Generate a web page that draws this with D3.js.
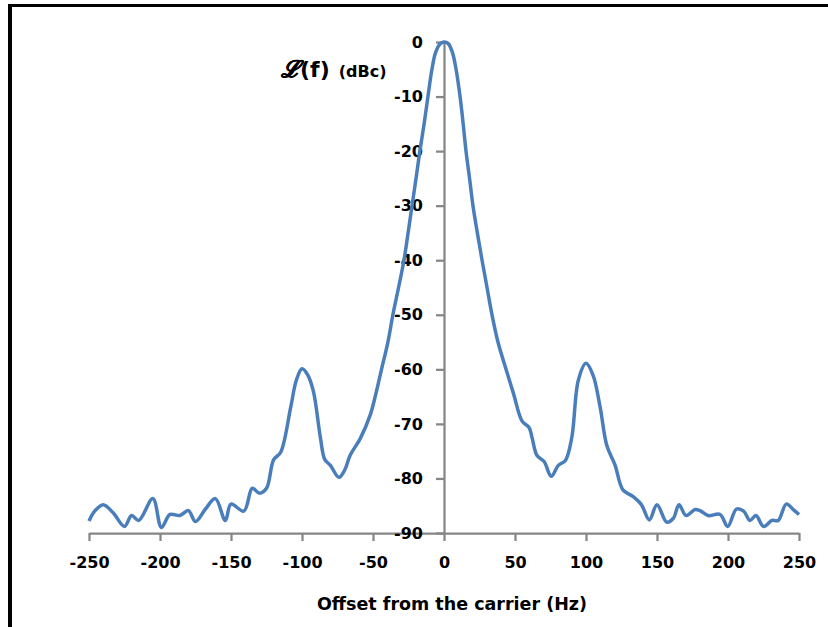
<!DOCTYPE html>
<html>
<head>
<meta charset="utf-8">
<script src="https://cdn.jsdelivr.net/npm/d3@7"></script>
<style>
  html, body { margin: 0; padding: 0; background: #fff; }
</style>
</head>
<body>
<div id="chart"></div>
<script>
// offset from the carrier (Hz) and L(f) (dBc)
var offset_hz = [-250, -246, -240, -233, -225, -220, -215, -205, -199, -193, -186, -180, -175, -168, -161,
    -154, -150, -141, -135, -130, -125, -120, -115, -108, -104, -100, -96, -92, -87, -84, -80, -74, -70,
    -66, -59, -52, -48, -44, -39.5, -36, -32, -28.2, -25.3, -22.5, -19.7, -17, -14, -11.3, -8.5, -6, -3, 0,
    3, 6, 8.5, 11.3, 13.5, 15.5, 18, 20.4, 23.5, 26.8, 30.3, 33.8, 38, 43.7, 49, 55, 60, 62, 65.5, 70.5,
    75.5, 80.5, 85.5, 90, 94.6, 100, 105, 110, 114.6, 120.4, 126, 133, 139, 144.6, 150, 156.8, 161.5,
    165.5, 170.4, 176.8, 180.3, 186, 194.4, 199.8, 206, 211, 215.5, 219.7, 225, 231, 235.4, 241, 246, 250];

var level_dbc = [-87.8, -86, -84.8, -86.3, -88.8, -86.8, -87.7, -83.7, -89, -86.6, -86.8, -85.9, -87.9, -85.6, -83.7,
    -87.7, -84.7, -86, -81.8, -82.7, -81.8, -76.6, -75.2, -67, -62, -59.9, -61, -64, -72.6, -76.5, -77.6, -79.8, -78.5,
    -75.7, -72.7, -68.4, -64.5, -60, -55, -50, -45, -40, -35, -30, -25, -20, -15, -10, -5, -2, -0.4, 0,
    -0.3, -2, -5, -10, -15, -20, -25, -30, -35, -40, -45, -50, -55, -60, -64.5, -69.5, -70.7, -72.5, -75.8, -76.9,
    -79.6, -77.6, -76.7, -72.5, -62, -58.9, -61.1, -67, -73.9, -77.5, -82.1, -83.3, -84.8, -87.6, -84.8, -88, -87.3,
    -84.8, -86.8, -85.7, -85.9, -86.8, -86.6, -88.8, -85.6, -86, -87.7, -86.8, -88.8, -87.7, -87.7, -84.7, -85.7, -86.6];

var x_ticks = [-250, -200, -150, -100, -50, 0, 50, 100, 150, 200, 250],
    y_ticks = [0, -10, -20, -30, -40, -50, -60, -70, -80, -90];

var svg_width = 828,
    svg_height = 627,
    line_color = "#4a7ebb",
    axis_color = "#868686",
    label_font = "'DejaVu Sans', sans-serif";

var svg = d3.select("#chart").append("svg")
    .attr("width", svg_width)
    .attr("height", svg_height);

//frame, only the top and left edges show
svg.append("rect").attr("x", 8).attr("y", 4).attr("width", svg_width - 8).attr("height", 3).attr("fill", "#000");
svg.append("rect").attr("x", 8).attr("y", 4).attr("width", 4).attr("height", svg_height - 4).attr("fill", "#000");

var x = d3.scaleLinear().domain([-250, 250]).range([89, 799]);
var y = d3.scaleLinear().domain([-90, 0]).range([533, 42]);

//plain hyphen, not the unicode minus d3 puts in
var PlainNumber = function (d) { return String(d); };

var StyleAxis = function (g) {
    g.select(".domain").attr("stroke", axis_color).attr("stroke-width", 2.25);
    g.selectAll(".tick line").attr("stroke", axis_color).attr("stroke-width", 2.25);
    g.selectAll(".tick text")
        .attr("fill", "#000")
        .attr("font-family", label_font)
        .attr("font-weight", "bold")
        .attr("font-size", "16px");
};

svg.append("g")
    .attr("transform", "translate(0," + y(-90) + ")")
    .call(d3.axisBottom(x).tickValues(x_ticks).tickFormat(PlainNumber)
        .tickSize(8).tickPadding(16).tickSizeOuter(0))
    .call(StyleAxis);

svg.append("g")
    .attr("transform", "translate(" + x(0) + ",0)")
    .call(d3.axisLeft(y).tickValues(y_ticks).tickFormat(PlainNumber)
        .tickSize(8).tickPadding(13).tickSizeOuter(0))
    .call(StyleAxis);

var points = offset_hz.map(function (f, i) { return [f, level_dbc[i]]; });

var line = d3.line()
    .x(function (d) { return x(d[0]); })
    .y(function (d) { return y(d[1]); })
    .curve(d3.curveCatmullRom.alpha(0.5));

svg.append("path")
    .datum(points)
    .attr("d", line)
    .attr("fill", "none")
    .attr("stroke", line_color)
    .attr("stroke-width", 3.5)
    .attr("stroke-linejoin", "round");

//axis titles
var ylab = svg.append("text")
    .attr("x", 281)
    .attr("y", 77)
    .attr("font-family", label_font)
    .attr("font-weight", "bold")
    .attr("fill", "#000");
ylab.append("tspan").attr("font-size", "23px").attr("font-family", "'DejaVu Serif', serif")
    .attr("font-style", "italic").attr("stroke", "#000").attr("stroke-width", 0.6).text("\u2112");
ylab.append("tspan").attr("font-size", "22px").text("(f)");
ylab.append("tspan").attr("font-size", "16px").attr("dx", 9).text("(dBc)");

svg.append("text")
    .attr("x", 452)
    .attr("y", 610)
    .attr("text-anchor", "middle")
    .attr("font-family", label_font)
    .attr("font-weight", "bold")
    .attr("font-size", "17.5px")
    .attr("fill", "#000")
    .text("Offset from the carrier (Hz)");
</script>
</body>
</html>
